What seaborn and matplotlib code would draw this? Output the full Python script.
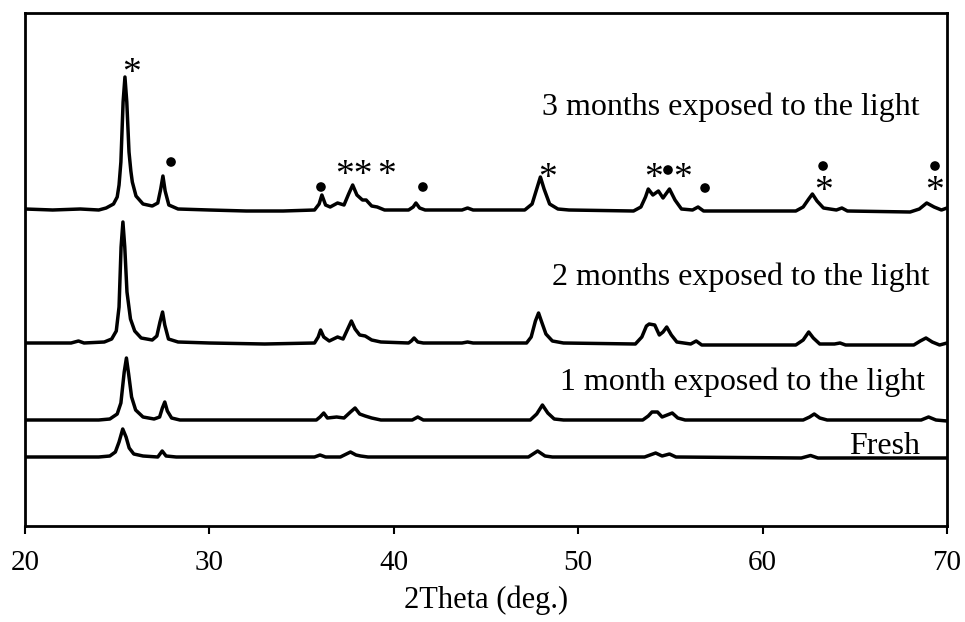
import matplotlib
matplotlib.use("Agg")
import matplotlib.pyplot as plt
import numpy as np
import pandas as pd
import seaborn as sns

# ---------------- data (arbitrary intensity units) ----------------
sample_names = ["3 months exposed to the light", "2 months exposed to the light",
                "1 month exposed to the light", "Fresh"]

theta_3m = [20.0, 21.5, 23.0, 24.0, 24.4, 24.8, 25.0, 25.1, 25.2, 25.32, 25.42, 25.52, 25.64, 25.74,
            25.82, 26.02, 26.4, 26.9, 27.2, 27.36, 27.48, 27.6, 27.8, 28.3, 30.0, 32.0, 34.0, 35.7,
            35.95, 36.1, 36.3, 36.55, 36.95, 37.3, 37.55, 37.77, 38.0, 38.3, 38.5, 38.8, 39.1, 39.5,
            40.8, 41.05, 41.2, 41.4, 41.7, 43.7, 44.0, 44.3, 47.1, 47.5, 47.75, 47.95, 48.15, 48.45,
            48.9, 49.5, 53.0, 53.4, 53.65, 53.8, 54.05, 54.35, 54.6, 54.95, 55.25, 55.6, 56.2, 56.5,
            56.8, 61.8, 62.2, 62.5, 62.7, 62.95, 63.3, 64.0, 64.3, 64.6, 68.0, 68.5, 68.9, 69.3,
            69.7, 70.0]
int_3m = [288, 287, 288, 287, 289, 293, 300, 312, 335, 395, 420, 395, 345, 326,
          315, 301, 293, 291, 294, 308, 321, 306, 292, 288, 287, 286, 286, 287,
          293, 302, 292, 290, 294, 292, 303, 312, 302, 297, 297, 291, 290, 287,
          287, 290, 294, 289, 287, 287, 289, 287, 287, 293, 308, 320, 308, 293,
          288, 287, 286, 290, 300, 308, 302, 306, 299, 308, 297, 288, 287, 290,
          286, 286, 290, 298, 303, 296, 289, 287, 289, 286, 285, 288, 294, 290,
          287, 289]

theta_2m = [20.0, 22.5, 22.9, 23.2, 24.3, 24.7, 24.95, 25.1, 25.21, 25.31, 25.41, 25.53, 25.72, 25.95,
            26.3, 26.9, 27.15, 27.32, 27.46, 27.58, 27.78, 28.3, 30.0, 33.0, 35.7, 35.9, 36.03, 36.2,
            36.5, 36.95, 37.25, 37.5, 37.7, 37.9, 38.15, 38.45, 38.8, 39.3, 40.8, 40.95, 41.1, 41.3,
            41.6, 43.7, 44.0, 44.3, 47.2, 47.45, 47.68, 47.85, 48.0, 48.25, 48.6, 49.2, 53.1, 53.45,
            53.7, 53.85, 54.15, 54.4, 54.6, 54.8, 55.05, 55.35, 56.1, 56.4, 56.7, 61.8, 62.2, 62.5,
            62.75, 63.1, 63.9, 64.2, 64.5, 68.2, 68.55, 68.86, 69.2, 69.6, 70.0]
int_2m = [154, 154, 156, 154, 155, 158, 166, 190, 250, 275, 250, 205, 178, 166,
          159, 157, 161, 175, 185, 172, 158, 155, 154, 153, 154, 160, 167, 160,
          156, 160, 158, 168, 176, 168, 162, 161, 157, 155, 154, 156, 159, 155,
          154, 154, 155, 154, 154, 160, 176, 184, 176, 163, 156, 154, 153, 160,
          171, 173, 172, 162, 165, 170, 162, 155, 153, 156, 152, 152, 157, 165,
          159, 153, 153, 154, 152, 152, 156, 159, 155, 152, 154]

theta_1m = [20.0, 22.0, 24.0, 24.6, 25.0, 25.2, 25.38, 25.5, 25.62, 25.78, 26.0, 26.4, 27.0, 27.3,
            27.45, 27.58, 27.72, 27.95, 28.4, 32.0, 35.8, 36.0, 36.2, 36.4, 36.9, 37.3, 37.65, 37.9,
            38.15, 38.45, 38.8, 39.3, 41.0, 41.3, 41.6, 47.4, 47.75, 48.06, 48.35, 48.7, 49.2, 53.5,
            53.8, 54.0, 54.3, 54.55, 55.1, 55.4, 55.8, 56.6, 62.2, 62.55, 62.8, 63.1, 63.5, 68.6,
            69.0, 69.4, 70.0]
int_1m = [77, 77, 77, 78, 83, 94, 125, 139, 123, 100, 87, 80, 78, 80,
          89, 95, 86, 79, 77, 77, 77, 80, 84, 79, 80, 79, 85, 89,
          83, 81, 79, 77, 77, 80, 77, 77, 83, 92, 84, 78, 77, 77,
          81, 85, 85, 80, 84, 79, 77, 77, 77, 80, 83, 79, 77, 77,
          80, 77, 76]

theta_fresh = [20.0, 22.0, 24.0, 24.6, 24.9, 25.1, 25.3, 25.48, 25.65, 25.9, 26.4, 27.2, 27.44, 27.65,
               28.2, 32.0, 35.7, 36.0, 36.3, 37.1, 37.65, 37.95, 38.2, 38.6, 47.3, 47.8, 48.2, 48.6,
               53.6, 54.2, 54.55, 54.95, 55.3, 62.1, 62.6, 63.0, 69.0, 70.0]
int_fresh = [40, 40, 40, 41, 45, 55, 68, 60, 49, 43, 41, 40, 46, 41,
             40, 40, 40, 42, 40, 40, 45, 42, 41, 40, 40, 46, 41, 40,
             40, 44, 41, 43, 40, 39, 41.5, 39, 39, 39]

# peak markers: anatase (*) labels and rutile (dot) markers, centre positions
star_labels = ["*", "**", "*", "*", "*", "*", "*", "*"]
star_theta = [25.80, 37.85, 39.62, 48.36, 54.06, 55.68, 63.28, 69.35]
star_int = [432, 330, 330, 327, 327, 327, 314, 314]
dot_theta = [27.92, 36.05, 41.58, 54.87, 56.88, 63.28, 69.35]
dot_int = [335, 310, 310, 327, 309, 331, 331]

# label anchor (right end, baseline)
label_theta = [68.54, 69.08, 68.80, 68.54]
label_int = [382, 212, 107, 43]

x_ticks = [20, 30, 40, 50, 60, 70]
x_label = "2Theta (deg.)"

# ---------------- build long tables ----------------
frames = []
for name, th, it in zip(sample_names,
                        [theta_3m, theta_2m, theta_1m, theta_fresh],
                        [int_3m, int_2m, int_1m, int_fresh]):
    frames.append(pd.DataFrame({"two_theta": th, "intensity": it, "sample": name}))
df = pd.concat(frames, ignore_index=True)
dots = pd.DataFrame({"two_theta": dot_theta, "intensity": dot_int})

# ---------------- plot ----------------
sns.set_style("white")
plt.rcParams["font.family"] = ["Liberation Serif", "DejaVu Sans"]

fig = plt.figure(figsize=(9.65, 6.22), dpi=100)
ax = fig.add_axes([25 / 965, 1 - 526 / 622, (947 - 25) / 965, (526 - 13) / 622])

sns.lineplot(data=df, x="two_theta", y="intensity", units="sample", estimator=None,
             sort=False, color="black", linewidth=2.5, ax=ax)
sns.scatterplot(data=dots, x="two_theta", y="intensity", color="black", marker="o",
                s=48, edgecolor="none", ax=ax, zorder=3)

ax.set_xlim(20, 70)
ax.set_ylim(-29, 484)
ax.set_yticks([])
ax.set_xticks(x_ticks)
ax.set_xticklabels([str(t) for t in x_ticks])
ax.set_ylabel("")
ax.set_xlabel(x_label, fontsize=22, labelpad=7, color="black")
ax.tick_params(axis="x", which="both", direction="out", length=6, width=1.5,
               labelsize=21, pad=11, bottom=True, top=False, colors="black")
for s in ax.spines.values():
    s.set_visible(True)
    s.set_linewidth(2.0)
    s.set_color("black")

for name, tx, ty in zip(sample_names, label_theta, label_int):
    ax.text(tx, ty, name, ha="right", va="baseline", fontsize=23, color="black")

for lab, tx, ty in zip(star_labels, star_theta, star_int):
    ax.text(tx, ty - 18, lab, ha="center", va="baseline", fontsize=27, color="black")

fig.savefig("out.png", dpi=100)
